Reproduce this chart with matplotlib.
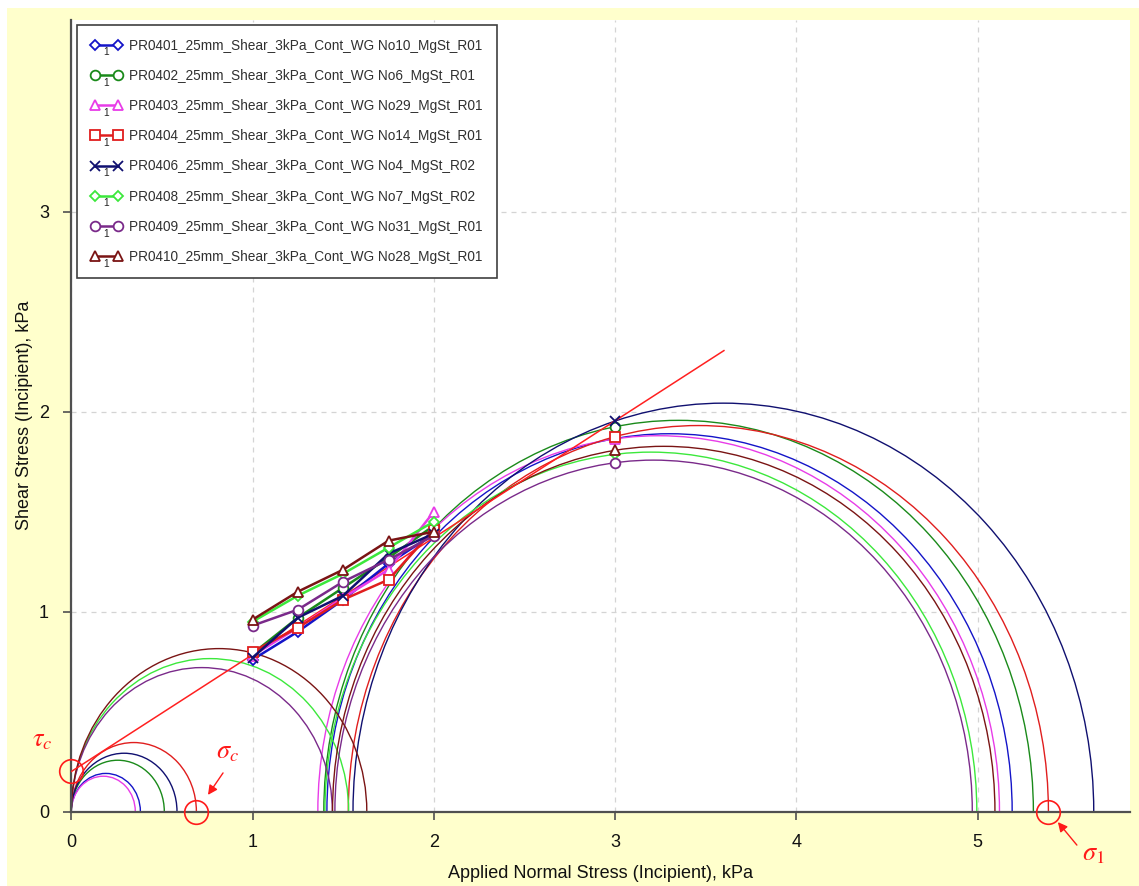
import matplotlib
matplotlib.use("Agg")
import matplotlib.pyplot as plt
from matplotlib.patches import Arc, Rectangle
from matplotlib.legend_handler import HandlerLine2D
from matplotlib.text import Text

plt.rcParams['font.family'] = ['Liberation Sans', 'DejaVu Sans']
plt.rcParams['mathtext.fontset'] = 'stix'

# ---------------- data ----------------
labels = [
    "PR0401_25mm_Shear_3kPa_Cont_WG No10_MgSt_R01",
    "PR0402_25mm_Shear_3kPa_Cont_WG No6_MgSt_R01",
    "PR0403_25mm_Shear_3kPa_Cont_WG No29_MgSt_R01",
    "PR0404_25mm_Shear_3kPa_Cont_WG No14_MgSt_R01",
    "PR0406_25mm_Shear_3kPa_Cont_WG No4_MgSt_R02",
    "PR0408_25mm_Shear_3kPa_Cont_WG No7_MgSt_R02",
    "PR0409_25mm_Shear_3kPa_Cont_WG No31_MgSt_R01",
    "PR0410_25mm_Shear_3kPa_Cont_WG No28_MgSt_R01",
]
colors = ["#1414c8", "#1a8a1a", "#e83ce8", "#e01e1e", "#101070", "#3ce83c", "#7a2a8a", "#7a1414"]
markers = ["D", "o", "^", "s", "x", "D", "o", "^"]

shear_x = [1.0, 1.25, 1.5, 1.75, 2.0]
shear_y = [
    [0.76, 0.90, 1.06, 1.24, 1.39],
    [0.79, 0.97, 1.12, 1.27, 1.43],
    [0.78, 0.92, 1.07, 1.21, 1.50],
    [0.80, 0.92, 1.06, 1.16, 1.41],
    [0.77, 0.97, 1.08, 1.29, 1.39],
    [0.95, 1.08, 1.19, 1.32, 1.45],
    [0.93, 1.01, 1.15, 1.26, 1.38],
    [0.96, 1.10, 1.21, 1.355, 1.40],
]
pre_x = 3.0
pre_y = [1.866, 1.926, 1.865, 1.876, 1.954, 1.787, 1.745, 1.808]

# Mohr circles: unconfined (from 0 to sigma_c) and major consolidation (sigma3 .. sigma1)
sigma_c = [0.381, 0.513, 0.353, 0.690, 0.583, 1.53, 1.44, 1.63]
sigma3 = [1.41, 1.393, 1.36, 1.528, 1.554, 1.399, 1.454, 1.441]
sigma1 = [5.19, 5.307, 5.12, 5.39, 5.64, 4.995, 4.97, 5.095]

envelope_x = [0.0, 3.6]
envelope_y = [0.20, 2.306]

tau_c = 0.205
sig_c_mark = 0.69
sig_1_mark = 5.388

xlabel = "Applied Normal Stress (Incipient), kPa"
ylabel = "Shear Stress (Incipient), kPa"
xticks = [0, 1, 2, 3, 4, 5]
yticks = [0, 1, 2, 3]

# ---------------- figure ----------------
W, H = 1139, 886
fig = plt.figure(figsize=(W / 100, H / 100), dpi=100, facecolor="white")
fig.patches.append(Rectangle((7 / W, 0), 1 - 7 / W, 1 - 8 / H, transform=fig.transFigure,
                             facecolor="#ffffcc", edgecolor="none", zorder=-10))

ax_l, ax_r, ax_b, ax_t = 71.3, 1130, 811.5, 20
ax = fig.add_axes([ax_l / W, 1 - ax_b / H, (ax_r - ax_l) / W, (ax_b - ax_t) / H])
ax.set_facecolor("white")
ax.set_xlim(0, 5.84)
ax.set_ylim(0, 3.96)

ax.grid(True, color="#d4d4d4", linestyle=(0, (4, 4)), linewidth=0.9)
ax.set_axisbelow(True)
for s in ["top", "right"]:
    ax.spines[s].set_visible(False)
for s in ["left", "bottom"]:
    ax.spines[s].set_color("#505050")
    ax.spines[s].set_linewidth(1.6)

ax.set_xticks(xticks)
ax.set_yticks(yticks)
ax.tick_params(axis="both", direction="out", length=6, width=1.2, color="#505050",
               labelsize=13, labelcolor="#111111")
ax.tick_params(axis="x", pad=10)
ax.tick_params(axis="y", pad=10)
ax.set_xlabel(xlabel, fontsize=13, color="#111111", labelpad=10)
ax.set_ylabel(ylabel, fontsize=13, color="#111111", labelpad=4)

# circles
for i in range(len(labels)):
    d = sigma_c[i]
    ax.add_patch(Arc((d / 2, 0), d, d, theta1=0, theta2=180, color=colors[i], lw=1.0, zorder=2))
    c = (sigma1[i] + sigma3[i]) / 2
    w = sigma1[i] - sigma3[i]
    ax.add_patch(Arc((c, 0), w, w, theta1=0, theta2=180, color=colors[i], lw=1.0, zorder=2))

# envelope
ax.plot(envelope_x, envelope_y, color="#ff2020", lw=1.1, zorder=3)

# series
handles = []
for i in range(len(labels)):
    mk = markers[i]
    ms = 5.5 if mk == "D" else 7
    ln, = ax.plot(shear_x, shear_y[i], color=colors[i], lw=1.8, marker=mk, ms=ms,
                  mfc="white" if mk != "x" else colors[i], mec=colors[i], mew=1.3, zorder=4,
                  label=labels[i])
    ax.plot([pre_x], [pre_y[i]], linestyle="none", marker=mk, ms=ms,
            mfc="white" if mk != "x" else colors[i], mec=colors[i], mew=1.3, zorder=4)
    handles.append(ln)

# annotation circles
red = "#ff1a1a"
for xm, ym in [(0, tau_c), (sig_c_mark, 0), (sig_1_mark, 0)]:
    ax.plot([xm], [ym], marker="o", ms=17, mfc="none", mec=red, mew=1.2, clip_on=False, zorder=6)

ax.text(-0.16, 0.36, r"$\tau_c$", color=red, fontsize=19, ha="center", va="center", clip_on=False)
ax.text(0.86, 0.30, r"$\sigma_c$", color=red, fontsize=19, ha="center", va="center", clip_on=False)
ax.text(5.64, -0.215, r"$\sigma_1$", color=red, fontsize=19, ha="center", va="center", clip_on=False)
arrow = dict(arrowstyle="-|>", color=red, lw=1.0, mutation_scale=14, shrinkA=0, shrinkB=0)
ax.annotate("", xy=(0.754, 0.083), xytext=(0.837, 0.193), arrowprops=arrow, annotation_clip=False)
ax.annotate("", xy=(5.442, -0.053), xytext=(5.547, -0.168), arrowprops=arrow, annotation_clip=False)


class HandlerNum(HandlerLine2D):
    def create_artists(self, legend, orig_handle, xdescent, ydescent, width, height, fontsize, trans):
        arts = super().create_artists(legend, orig_handle, xdescent, ydescent, width, height, fontsize, trans)
        t = Text(width / 2 - xdescent, -ydescent - 0.3 * height, "1", fontsize=fontsize * 0.75,
                 ha="center", va="center", color="#222222", transform=trans)
        arts.append(t)
        return arts


leg = fig.legend(handles=handles, labels=labels, loc="upper left",
                 bbox_to_anchor=(77 / W, 1 - 25 / H), bbox_transform=fig.transFigure,
                 fontsize=9.8, numpoints=2, handlelength=2.3, handletextpad=0.55,
                 labelspacing=1.19, borderpad=1.0, borderaxespad=0, frameon=True,
                 fancybox=False, framealpha=1, edgecolor="#404040",
                 handler_map={matplotlib.lines.Line2D: HandlerNum(numpoints=2)})
leg.get_frame().set_linewidth(1.2)
for t in leg.get_texts():
    t.set_color("#303030")

fig.savefig("out.png", dpi=100, facecolor=fig.get_facecolor())
